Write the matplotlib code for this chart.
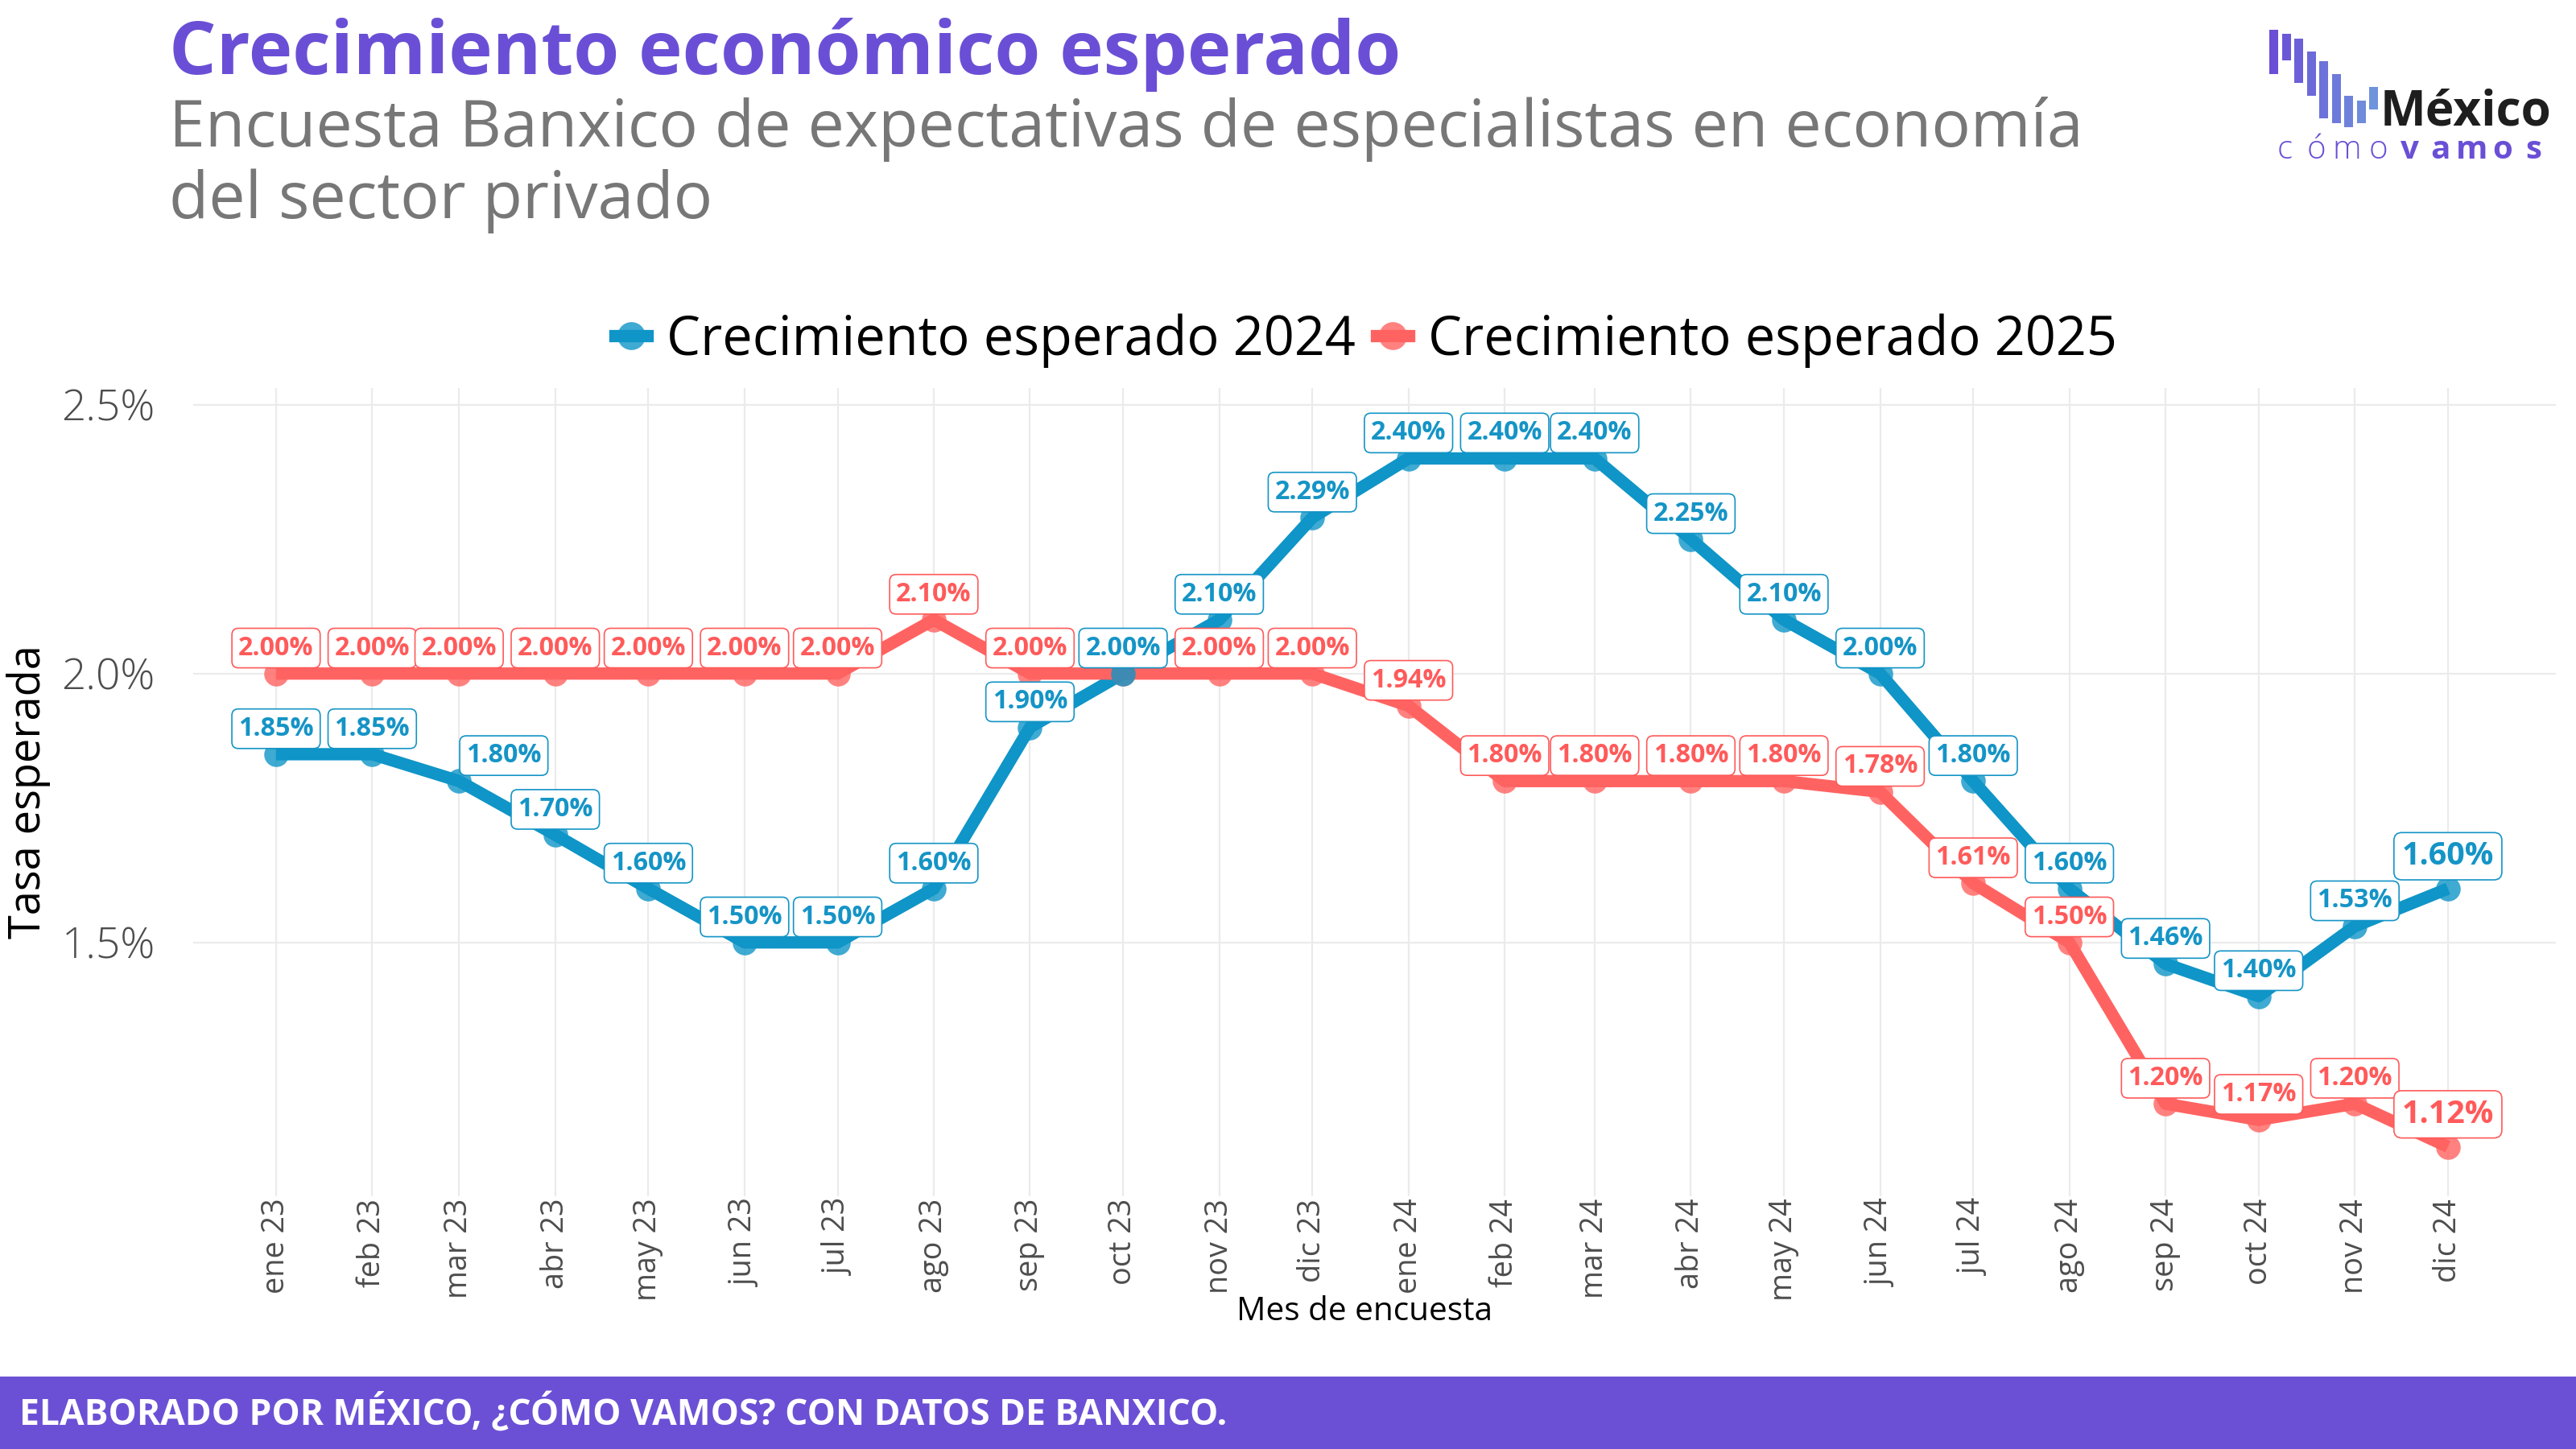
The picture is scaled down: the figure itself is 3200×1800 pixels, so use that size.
import matplotlib
matplotlib.use("Agg")
import matplotlib.pyplot as plt
from matplotlib.lines import Line2D
from matplotlib.patches import Rectangle
from datetime import datetime, timedelta

# ---------------- data ----------------
months = ["2023-01-01", "2023-02-01", "2023-03-01", "2023-04-01", "2023-05-01", "2023-06-01",
          "2023-07-01", "2023-08-01", "2023-09-01", "2023-10-01", "2023-11-01", "2023-12-01",
          "2024-01-01", "2024-02-01", "2024-03-01", "2024-04-01", "2024-05-01", "2024-06-01",
          "2024-07-01", "2024-08-01", "2024-09-01", "2024-10-01", "2024-11-01", "2024-12-01"]
tick_labels = ["ene 23", "feb 23", "mar 23", "abr 23", "may 23", "jun 23",
               "jul 23", "ago 23", "sep 23", "oct 23", "nov 23", "dic 23",
               "ene 24", "feb 24", "mar 24", "abr 24", "may 24", "jun 24",
               "jul 24", "ago 24", "sep 24", "oct 24", "nov 24", "dic 24"]
crec_2024 = [1.85, 1.85, 1.80, 1.70, 1.60, 1.50, 1.50, 1.60, 1.90, 2.00, 2.10, 2.29,
             2.40, 2.40, 2.40, 2.25, 2.10, 2.00, 1.80, 1.60, 1.46, 1.40, 1.53, 1.60]
crec_2025 = [2.00, 2.00, 2.00, 2.00, 2.00, 2.00, 2.00, 2.10, 2.00, 2.00, 2.00, 2.00,
             1.94, 1.80, 1.80, 1.80, 1.80, 1.78, 1.61, 1.50, 1.20, 1.17, 1.20, 1.12]
series_names = ["Crecimiento esperado 2024", "Crecimiento esperado 2025"]
y_ticks = [1.5, 2.0, 2.5]
y_tick_labels = ["1.5%", "2.0%", "2.5%"]

title = "Crecimiento económico esperado"
subtitle_1 = "Encuesta Banxico de expectativas de especialistas en economía"
subtitle_2 = "del sector privado"
footer = "ELABORADO POR MÉXICO, ¿CÓMO VAMOS? CON DATOS DE BANXICO."

# ---------------- style ----------------
BLUE = "#0f95c7"
RED = "#ff6361"
BLUE_TXT = "#1594c6"
RED_TXT = "#ff5a5a"
PURPLE = "#6a4fd6"
FONT = "Open Sans"
plt.rcParams["font.family"] = [FONT, "DejaVu Sans"]

W, H = 3200, 1800
DPI = 200
fig = plt.figure(figsize=(W / DPI, H / DPI), dpi=DPI)

def fx(px):
    return px / W

def fy(py):
    return 1 - py / H

dates = [datetime.strptime(m, "%Y-%m-%d") for m in months]

# plot panel
ax_l, ax_r, ax_t, ax_b = 240, 3175, 482, 1486
ax = fig.add_axes([fx(ax_l), fy(ax_b), fx(ax_r - ax_l), (ax_b - ax_t) / H])
for s in ax.spines.values():
    s.set_visible(False)

ax.set_xlim(dates[0] - timedelta(days=26.7), dates[-1] + timedelta(days=34.8))
ax.set_ylim(1.028, 2.531)

ax.set_xticks(dates)
ax.set_xticklabels(tick_labels, rotation=90, fontsize=13.6, color="#4d4d4d", va="top", ha="center")
ax.set_yticks(y_ticks)
ax.set_yticklabels(y_tick_labels, fontsize=19.2, color="#4d4d4d", fontweight="light")
ax.tick_params(axis="both", length=0)
ax.tick_params(axis="x", pad=1)
ax.tick_params(axis="y", pad=17)
ax.grid(True, color="#ebebeb", linewidth=0.8)
ax.set_axisbelow(True)

LW = 5.5
MS = 11
ax.plot(dates, crec_2024, color=BLUE, lw=LW, zorder=3, solid_capstyle="butt")
ax.plot(dates, crec_2025, color=RED, lw=LW, zorder=4, solid_capstyle="butt")
ax.plot(dates, crec_2025, ls="none", marker="o", ms=MS, color=RED, alpha=0.8, mew=0, zorder=5)
ax.plot(dates, crec_2024, ls="none", marker="o", ms=MS, color=BLUE, alpha=0.8, mew=0, zorder=6)

# label placement tweaks (repel-like)
shift_2024 = {2: 20}
hidden_2025 = {9}

def add_label(x, y, txt, color, dx=0, big=False):
    fs = 14.2 if big else 11.6
    dy = 14.5 if big else 11.4
    ax.annotate(txt, (x, y), xytext=(dx, dy), textcoords="offset points",
                ha="center", va="center", fontsize=fs, fontweight="bold", color=color,
                zorder=10,
                bbox=dict(boxstyle="round,pad=0.25,rounding_size=0.25", fc="white",
                          ec=color, lw=0.6))

n = len(dates)
for i in range(n):
    add_label(dates[i], crec_2024[i], f"{crec_2024[i]:.2f}%", BLUE_TXT,
              dx=shift_2024.get(i, 0), big=(i == n - 1))
    if i not in hidden_2025:
        add_label(dates[i], crec_2025[i], f"{crec_2025[i]:.2f}%", RED_TXT, big=(i == n - 1))

# axis titles
fig.text(fx(36), fy(984), "Tasa esperada", rotation=90, fontsize=19.5, color="black",
         ha="center", va="center")
fig.text(fx(1695), fy(1630), "Mes de encuesta", fontsize=14.6, color="black",
         ha="center", va="center")

# legend
handles = [Line2D([0], [0], color=c, lw=LW, marker="o", ms=12.5,
                  mfc=matplotlib.colors.to_rgba(c, 0.8), mec=matplotlib.colors.to_rgba(c, 0.0))
           for c in (BLUE, RED)]
fig.legend(handles, series_names, loc="center", bbox_to_anchor=(fx(1697), fy(423)),
           ncol=2, frameon=False, fontsize=24, handlelength=0.6, handletextpad=0.35,
           columnspacing=0.4, borderaxespad=0, borderpad=0)

# titles
t1 = fig.text(fx(210), fy(92), title, fontsize=35, fontweight="bold", color=PURPLE,
              ha="left", va="baseline")
t2 = fig.text(fx(210), fy(182), subtitle_1, fontsize=29, color="#777777",
              ha="left", va="baseline")
t3 = fig.text(fx(210), fy(271), subtitle_2, fontsize=29, color="#777777",
              ha="left", va="baseline")

# footer
fig.patches.append(Rectangle((0, 0), 1, 90 / H, transform=fig.transFigure,
                             facecolor="#6b50d6", edgecolor="none", zorder=0))
t4 = fig.text(fx(24), fy(1756), footer, fontsize=15, fontweight="bold", color="white",
              ha="left", va="center")

# logo
bars = [(2819, 37, 92), (2835, 42, 75), (2850, 48, 103), (2866, 64, 119), (2881, 76, 147),
        (2897, 92, 153), (2912, 119, 158), (2928, 125, 153), (2943, 108, 136)]
c0 = matplotlib.colors.to_rgb("#6a4fd6")
c1 = matplotlib.colors.to_rgb("#7093dd")
for k, (bx, top, bot) in enumerate(bars):
    f = k / (len(bars) - 1)
    col = tuple(c0[j] + (c1[j] - c0[j]) * f for j in range(3))
    fig.patches.append(Rectangle((fx(bx), fy(bot)), 10.5 / W, (bot - top) / H,
                                 transform=fig.transFigure, facecolor=col, edgecolor="none"))
t5 = fig.text(fx(2957), fy(156), "México", fontsize=25, fontweight="bold", color="#1e1e1e",
              ha="left", va="baseline")
logo_word = "cómovamos"
step = (3167 - 2819) / len(logo_word)
for k, ch in enumerate(logo_word):
    fig.text(fx(2819 + step * (k + 0.5)), fy(197), ch, fontsize=14.5,
             fontweight=("bold" if k >= 4 else "light"), color=PURPLE,
             ha="center", va="baseline")

# fit widths of main texts to reference
fig.canvas.draw()
r = fig.canvas.get_renderer()
for t, target in ((t1, 1531), (t2, 2378), (t4, 1496), (t5, 213)):
    w = t.get_window_extent(r).width
    t.set_fontsize(t.get_fontsize() * target / w)
t3.set_fontsize(t2.get_fontsize())

fig.savefig("out.png", dpi=DPI, facecolor="white")
